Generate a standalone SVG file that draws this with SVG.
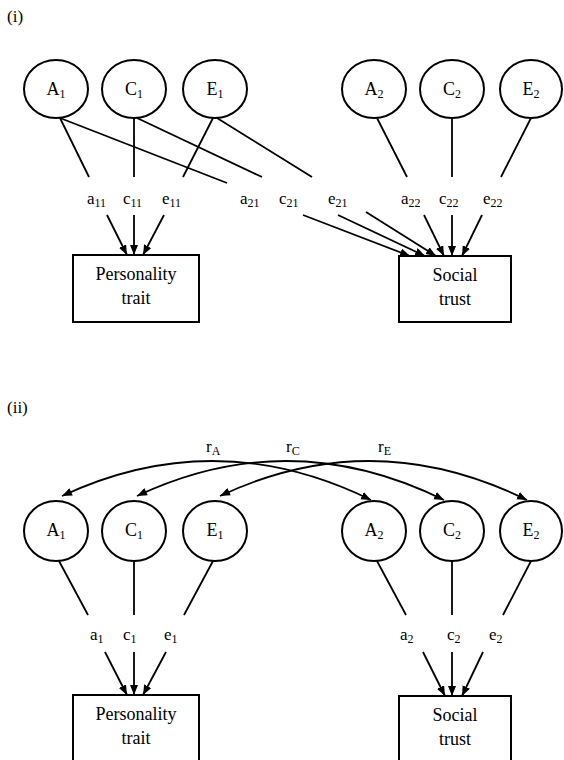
<svg xmlns="http://www.w3.org/2000/svg" width="564" height="760" viewBox="0 0 564 760" font-family="Liberation Serif, DejaVu Serif, serif">
<defs>
<style>
text{font-family:'Liberation Serif','DejaVu Serif',serif;fill:#000}
.node ellipse,.node rect{fill:#fff;stroke:#000;stroke-width:2}
.lat{font-size:18px;text-anchor:middle}
.box{font-size:18px;text-anchor:middle}
.lab{font-size:17px}
.sub{font-size:12px}
.sec{font-size:17px}
#connectors line,#connectors path{stroke:#000;stroke-width:1.8;fill:none}
.arr{marker-end:url(#ah)}
.dbl{marker-start:url(#ahs);marker-end:url(#ah)}
</style>
<marker id="ah" markerUnits="userSpaceOnUse" markerWidth="11" markerHeight="9" refX="10" refY="4" orient="auto">
<path d="M0,0 L10,4 L0,8 z" fill="#000"/>
</marker>
<marker id="ahs" markerUnits="userSpaceOnUse" markerWidth="11" markerHeight="9" refX="0" refY="4" orient="auto">
<path d="M10,0 L0,4 L10,8 z" fill="#000"/>
</marker>
</defs>
<rect width="564" height="760" fill="#fff"/>

<text class="sec" x="7" y="22">(i)</text>
<text class="sec" x="7" y="413">(ii)</text>

<g id="connectors">
<line x1="60" y1="118" x2="89" y2="177"/>
<line x1="134" y1="118" x2="134" y2="177"/>
<line x1="213" y1="118" x2="183" y2="177"/>
<line x1="60" y1="118" x2="227" y2="183"/>
<line x1="137" y1="118" x2="262" y2="177"/>
<line x1="217" y1="118" x2="312" y2="177"/>
<line x1="377" y1="118" x2="407" y2="177"/>
<line x1="452" y1="118" x2="452" y2="177"/>
<line x1="531" y1="118" x2="501" y2="177"/>
<line class="arr" x1="107" y1="215" x2="127" y2="255"/>
<line class="arr" x1="134" y1="215" x2="134" y2="255"/>
<line class="arr" x1="164" y1="215" x2="143" y2="255"/>
<line class="arr" x1="303" y1="215" x2="410" y2="256"/>
<line class="arr" x1="338" y1="215" x2="425" y2="256"/>
<line class="arr" x1="366" y1="212" x2="436" y2="256"/>
<line class="arr" x1="424" y1="215" x2="444" y2="256"/>
<line class="arr" x1="452" y1="215" x2="452" y2="256"/>
<line class="arr" x1="482" y1="215" x2="462" y2="256"/>
<path class="dbl" d="M62,496 Q216,424 371,500"/>
<path class="dbl" d="M137,496 Q290,424 444,500"/>
<path class="dbl" d="M220,496 Q373,424 527,500"/>
<line x1="59" y1="561" x2="88" y2="615"/>
<line x1="134" y1="561" x2="134" y2="615"/>
<line x1="213" y1="561" x2="184" y2="615"/>
<line x1="377" y1="561" x2="406" y2="615"/>
<line x1="452" y1="561" x2="452" y2="615"/>
<line x1="531" y1="561" x2="503" y2="615"/>
<line class="arr" x1="105" y1="652" x2="127" y2="695"/>
<line class="arr" x1="134" y1="652" x2="134" y2="695"/>
<line class="arr" x1="166" y1="652" x2="143" y2="695"/>
<line class="arr" x1="423" y1="652" x2="445" y2="696"/>
<line class="arr" x1="452" y1="652" x2="452" y2="696"/>
<line class="arr" x1="483" y1="652" x2="462" y2="696"/>
</g>

<g id="labels">
<text class="lab" x="87" y="204">a<tspan class="sub" dy="3">11</tspan></text>
<text class="lab" x="123" y="204">c<tspan class="sub" dy="3">11</tspan></text>
<text class="lab" x="162" y="204">e<tspan class="sub" dy="3">11</tspan></text>
<text class="lab" x="240" y="204">a<tspan class="sub" dy="3">21</tspan></text>
<text class="lab" x="279" y="204">c<tspan class="sub" dy="3">21</tspan></text>
<text class="lab" x="328" y="204">e<tspan class="sub" dy="3">21</tspan></text>
<text class="lab" x="401" y="204">a<tspan class="sub" dy="3">22</tspan></text>
<text class="lab" x="439" y="204">c<tspan class="sub" dy="3">22</tspan></text>
<text class="lab" x="483" y="204">e<tspan class="sub" dy="3">22</tspan></text>
<text class="lab" x="206" y="452">r<tspan class="sub" dy="3">A</tspan></text>
<text class="lab" x="286" y="452">r<tspan class="sub" dy="3">C</tspan></text>
<text class="lab" x="378" y="452">r<tspan class="sub" dy="3">E</tspan></text>
<text class="lab" x="90" y="640">a<tspan class="sub" dy="3">1</tspan></text>
<text class="lab" x="123" y="640">c<tspan class="sub" dy="3">1</tspan></text>
<text class="lab" x="164" y="640">e<tspan class="sub" dy="3">1</tspan></text>
<text class="lab" x="400" y="640">a<tspan class="sub" dy="3">2</tspan></text>
<text class="lab" x="447" y="640">c<tspan class="sub" dy="3">2</tspan></text>
<text class="lab" x="489" y="640">e<tspan class="sub" dy="3">2</tspan></text>
</g>

<g id="A1_i" class="node"><ellipse cx="56" cy="89" rx="32" ry="29"/><text class="lat" x="56" y="95">A<tspan class="sub" dy="3">1</tspan></text></g>
<g id="C1_i" class="node"><ellipse cx="134" cy="89" rx="32" ry="29"/><text class="lat" x="134" y="95">C<tspan class="sub" dy="3">1</tspan></text></g>
<g id="E1_i" class="node"><ellipse cx="215" cy="89" rx="32" ry="29"/><text class="lat" x="215" y="95">E<tspan class="sub" dy="3">1</tspan></text></g>
<g id="A2_i" class="node"><ellipse cx="374" cy="89" rx="32" ry="29"/><text class="lat" x="374" y="95">A<tspan class="sub" dy="3">2</tspan></text></g>
<g id="C2_i" class="node"><ellipse cx="452" cy="89" rx="32" ry="29"/><text class="lat" x="452" y="95">C<tspan class="sub" dy="3">2</tspan></text></g>
<g id="E2_i" class="node"><ellipse cx="531" cy="89" rx="31" ry="29"/><text class="lat" x="531" y="95">E<tspan class="sub" dy="3">2</tspan></text></g>
<g id="PT_i" class="node"><rect x="73" y="255" width="126" height="67"/><text class="box" x="136" y="280">Personality</text><text class="box" x="136" y="304">trait</text></g>
<g id="ST_i" class="node"><rect x="399" y="256" width="112" height="66"/><text class="box" x="455" y="281">Social</text><text class="box" x="455" y="305">trust</text></g>

<g id="A1_ii" class="node"><ellipse cx="56" cy="531" rx="32" ry="30"/><text class="lat" x="56" y="536">A<tspan class="sub" dy="3">1</tspan></text></g>
<g id="C1_ii" class="node"><ellipse cx="134" cy="531" rx="32" ry="30"/><text class="lat" x="134" y="536">C<tspan class="sub" dy="3">1</tspan></text></g>
<g id="E1_ii" class="node"><ellipse cx="215" cy="531" rx="32" ry="30"/><text class="lat" x="215" y="536">E<tspan class="sub" dy="3">1</tspan></text></g>
<g id="A2_ii" class="node"><ellipse cx="374" cy="531" rx="32" ry="30"/><text class="lat" x="374" y="536">A<tspan class="sub" dy="3">2</tspan></text></g>
<g id="C2_ii" class="node"><ellipse cx="452" cy="531" rx="32" ry="30"/><text class="lat" x="452" y="536">C<tspan class="sub" dy="3">2</tspan></text></g>
<g id="E2_ii" class="node"><ellipse cx="531" cy="531" rx="31" ry="30"/><text class="lat" x="531" y="536">E<tspan class="sub" dy="3">2</tspan></text></g>
<g id="PT_ii" class="node"><rect x="73" y="695" width="126" height="70"/><text class="box" x="136" y="720">Personality</text><text class="box" x="136" y="744">trait</text></g>
<g id="ST_ii" class="node"><rect x="399" y="696" width="112" height="70"/><text class="box" x="455" y="721">Social</text><text class="box" x="455" y="745">trust</text></g>
</svg>
